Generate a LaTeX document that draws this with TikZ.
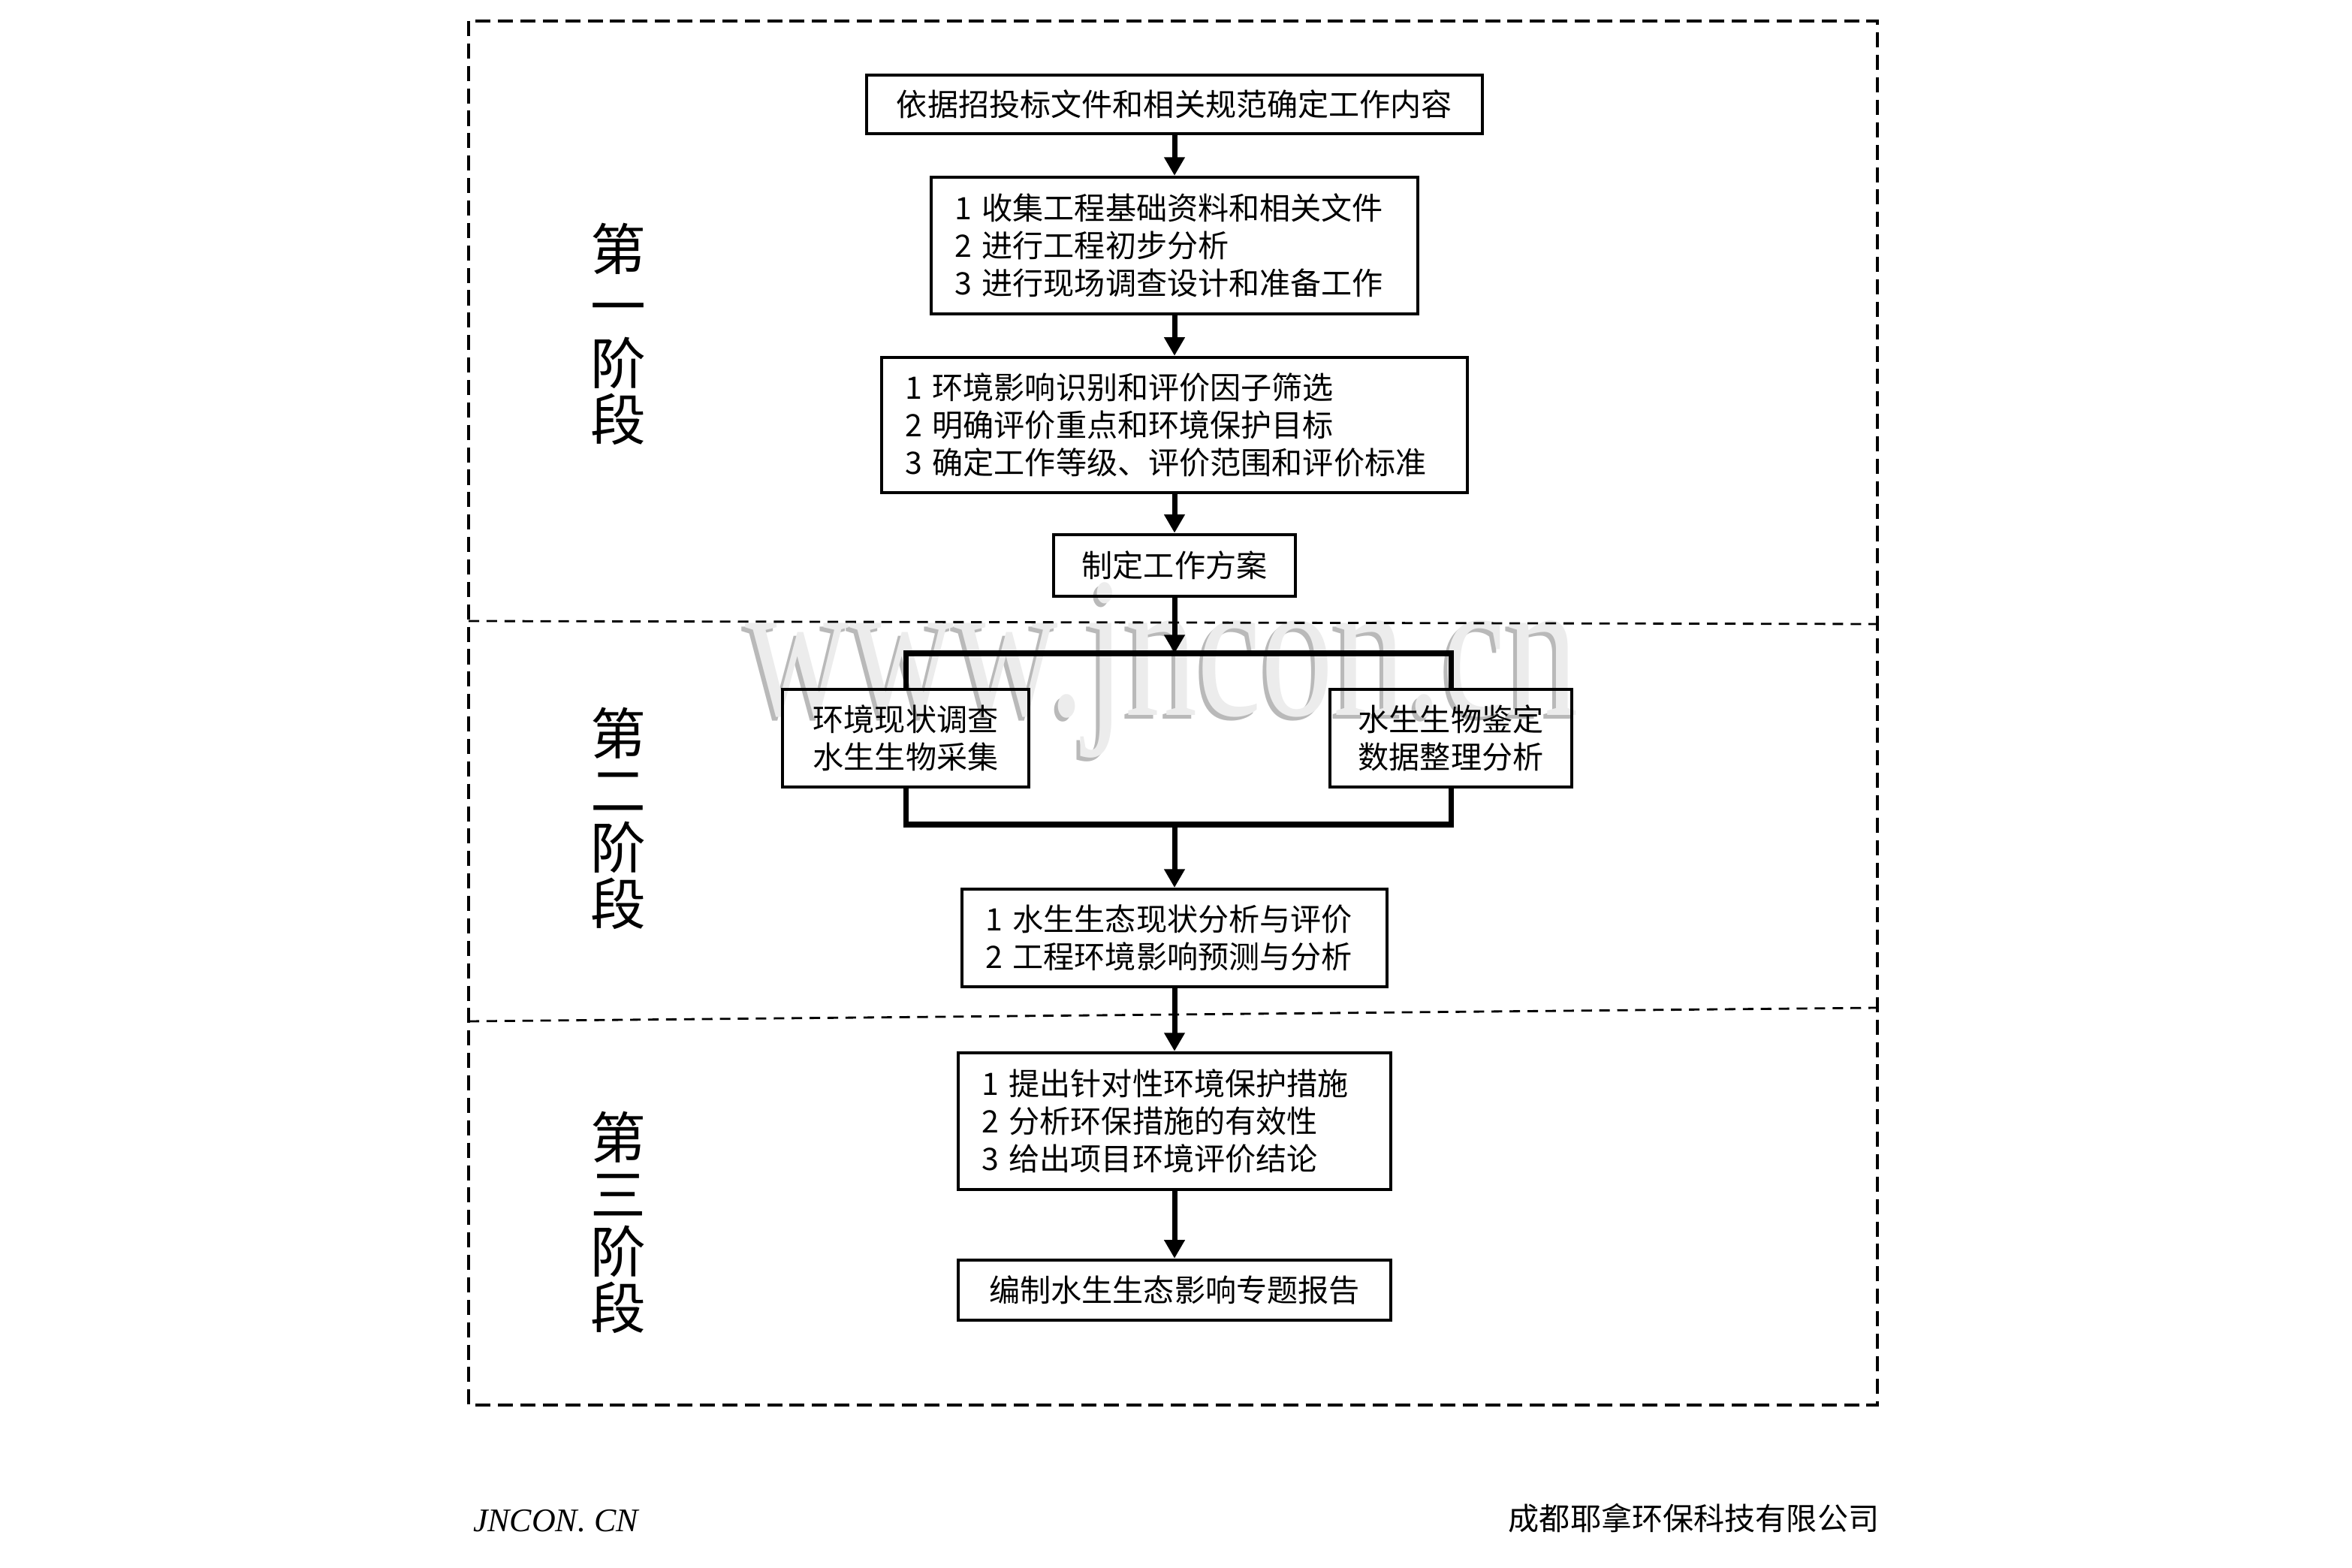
\documentclass[tikz,border=0pt]{standalone}
\usepackage{graphicx}
\usepackage{fontspec}
\setmainfont{Noto Sans CJK SC}
\newfontfamily\wmfont{Liberation Serif}
\usetikzlibrary{arrows.meta,positioning}

\begin{document}
\begin{tikzpicture}[
  box/.style={draw,line width=1.1pt,font=\fontsize{11.7}{14.2}\selectfont,inner xsep=0.31cm,align=center},
  multi/.style={box,align=left},
  arr/.style={line width=2pt,-{Triangle[length=7pt,width=7.5pt]}},
  bar/.style={line width=2pt},
  stage/.style={font=\fontsize{21}{21.6}\selectfont,align=center},
  frame/.style={line width=1pt,dash pattern=on 5.7pt off 2.8pt},
  divider/.style={line width=0.8pt,dash pattern=on 4pt off 2.8pt}
]
\useasboundingbox (0,0) rectangle (31.32,-20.88);

% watermark
\node[anchor=base,text=gray!55,font=\wmfont\fontsize{76}{76}\selectfont] (wmshadow) at (15.42,-9.58) {\scalebox{0.72}[1]{www.jncon.cn}};
\node[anchor=base,text=gray!15,font=\wmfont\fontsize{76}{76}\selectfont] (wm) at (15.47,-9.53) {\scalebox{0.72}[1]{www.jncon.cn}};

% frame and stages
\draw[frame] (6.24,-0.28) rectangle (25.00,-18.71);
\draw[divider] (6.24,-8.27) -- (25.00,-8.31);
\draw[divider] (6.24,-13.60) -- (25.00,-13.42);
\node[stage] (s1) at (8.23,-4.45) {第\\一\\阶\\段};
\node[stage] (s2) at (8.23,-10.90) {第\\二\\阶\\段};
\node[stage] (s3) at (8.23,-16.28) {第\\三\\阶\\段};

% flow
\node[box,minimum width=8.20cm,minimum height=0.78cm] (req) at (15.64,-1.39) {依据招投标文件和相关规范确定工作内容};
\node[multi,text width=5.86cm,minimum height=1.82cm,below=0.54cm of req] (prep) {1 收集工程基础资料和相关文件\\2 进行工程初步分析\\3 进行现场调查设计和准备工作};
\node[multi,text width=7.18cm,minimum height=1.80cm,below=0.54cm of prep] (scope) {1 环境影响识别和评价因子筛选\\2 明确评价重点和环境保护目标\\3 确定工作等级、评价范围和评价标准};
\node[box,minimum width=3.22cm,minimum height=0.82cm,below=0.52cm of scope] (plan) {制定工作方案};
\coordinate (fork) at (15.64,-8.70);
\node[box,minimum width=3.28cm,minimum height=1.30cm] (survey) at (12.06,-9.83) {环境现状调查\\水生生物采集};
\node[box,minimum width=3.22cm,minimum height=1.30cm] (ident) at (19.32,-9.83) {水生生物鉴定\\数据整理分析};
\coordinate (join) at (15.64,-10.98);
\node[multi,text width=5.04cm,minimum height=1.30cm,below=0.84cm of join] (status) {1 水生生态现状分析与评价\\2 工程环境影响预测与分析};
\node[multi,text width=5.14cm,minimum height=1.82cm,below=0.84cm of status] (measure) {1 提出针对性环境保护措施\\2 分析环保措施的有效性\\3 给出项目环境评价结论};
\node[box,minimum width=5.76cm,minimum height=0.80cm,below=0.90cm of measure] (report) {编制水生生态影响专题报告};

\draw[arr] (req) -- (prep);
\draw[arr] (prep) -- (scope);
\draw[arr] (scope) -- (plan);
\draw[arr] (plan) -- (fork);
\draw[bar] (survey.north) |- (fork) -| (ident.north);
\draw[bar] (survey.south) |- (join) -| (ident.south);
\draw[arr] (join) -- (status);
\draw[arr] (status) -- (measure);
\draw[arr] (measure) -- (report);

% footer
\node[font=\wmfont\itshape\fontsize{12.5}{12.5}\selectfont] (web) at (7.40,-20.25) {JNCON. CN};
\node[anchor=east,inner sep=0pt,font=\fontsize{11.7}{14}\selectfont] (firm) at (25.03,-20.22) {成都耶拿环保科技有限公司};
\end{tikzpicture}
\end{document}
